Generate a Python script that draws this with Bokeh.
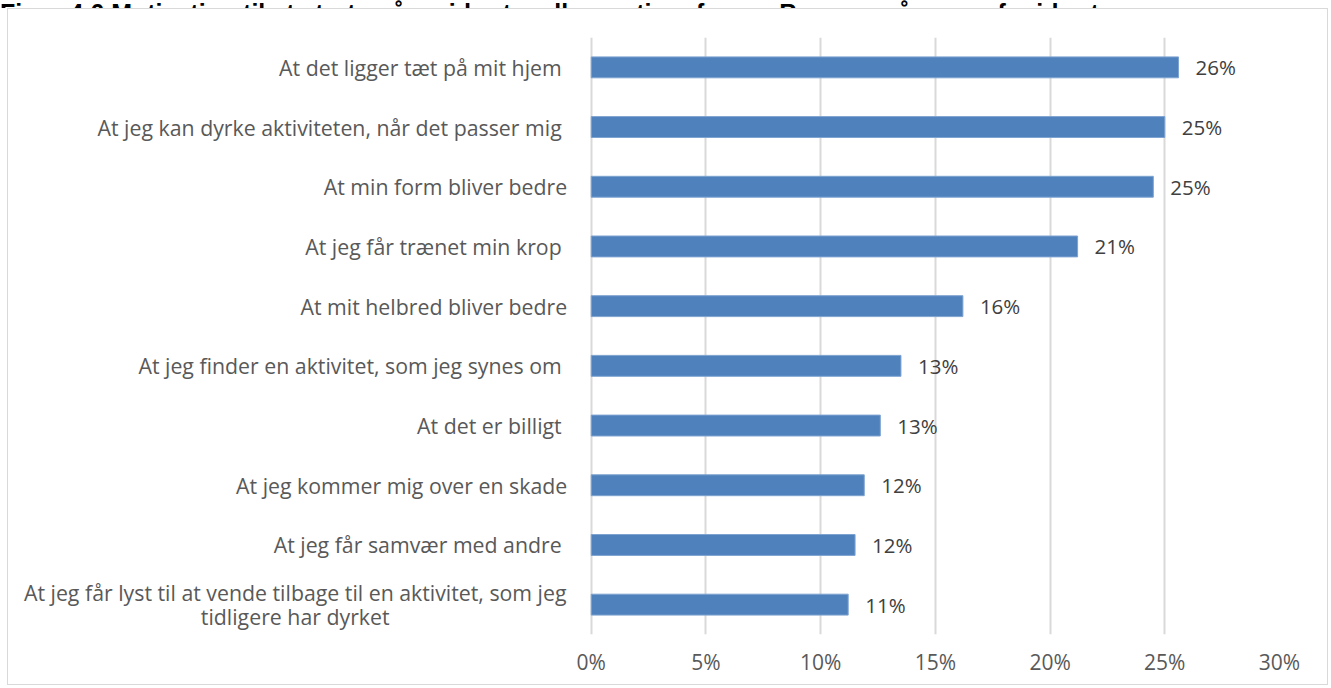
from bokeh.plotting import figure
from bokeh.models import (ColumnDataSource, FactorRange, Range1d, FixedTicker,
                          CustomJSTickFormatter, Div)
from bokeh.layouts import column
from bokeh.core.properties import value
from bokeh.embed import file_html
from bokeh.resources import INLINE

title_text = "Figur 4.6 Motivation til at starte på en idræts- eller motionsform – Borgere på pause fra idræt"
categories = [
    "At det ligger tæt på mit hjem ",
    "At jeg kan dyrke aktiviteten, når det passer mig ",
    "At min form bliver bedre",
    "At jeg får trænet min krop ",
    "At mit helbred bliver bedre",
    "At jeg finder en aktivitet, som jeg synes om ",
    "At det er billigt ",
    "At jeg kommer mig over en skade",
    "At jeg får samvær med andre ",
    "At jeg får lyst til at vende tilbage til en aktivitet, som jeg\ntidligere har dyrket",
]
values = [25.6, 25.0, 24.5, 21.2, 16.2, 13.5, 12.6, 11.9, 11.5, 11.2]
labels = ["26%", "25%", "25%", "21%", "16%", "13%", "13%", "12%", "12%", "11%"]
x_ticks = [0, 5, 10, 15, 20, 25, 30]

FONT = "Open Sans"
CAT_SIZE = "21.3px"

src = ColumnDataSource(dict(cat=categories, val=values, lab=labels))
one_line = ColumnDataSource(dict(cat=categories[:-1], zero=[0] * (len(categories) - 1)))
two_line = ColumnDataSource(dict(cat=categories[-1:], zero=[0]))

p = figure(
    width=1321, height=677,
    y_range=FactorRange(*reversed(categories), range_padding=0),
    # left part of the x range holds the category labels
    x_range=Range1d(-25.4, 30),
    output_backend="svg", toolbar_location=None,
    min_border_left=0, min_border_right=50, min_border_top=28, min_border_bottom=52,
)
p.styles = {"border": "1px solid #d9d9d9", "box-sizing": "border-box", "margin-left": "7px"}
p.outline_line_color = None
p.background_fill_color = "white"
p.border_fill_color = "white"
p.yaxis.visible = False

p.hbar(y="cat", right="val", left=0, height=0.35, source=src,
       fill_color="#4f81bd", line_color="#7ea3d1", line_width=1)

p.text(x="val", y="cat", text="lab", source=src, x_offset=17,
       text_baseline="middle", text_align="left",
       text_font=value(FONT), text_font_size="20.5px", text_color="#404040")

# category labels
p.text(x="zero", y="cat", text="cat", source=one_line, x_offset=-24,
       text_baseline="middle", text_align="right",
       text_font=value(FONT), text_font_size=CAT_SIZE, text_color="#595959")
p.text(x="zero", y="cat", text="cat", source=two_line, x_offset=-296,
       text_baseline="middle", text_align="center", text_line_height=0.85,
       text_font=value(FONT), text_font_size=CAT_SIZE, text_color="#595959")

p.xaxis.ticker = FixedTicker(ticks=x_ticks)
p.xaxis.formatter = CustomJSTickFormatter(code="return tick + '%';")
p.xaxis.axis_line_color = None
p.xaxis.major_tick_line_color = None
p.xaxis.minor_tick_line_color = None
p.xaxis.major_tick_out = 0
p.xaxis.major_tick_in = 0
p.xaxis.major_label_standoff = 13
p.xaxis.major_label_text_font = FONT
p.xaxis.major_label_text_font_size = "21px"
p.xaxis.major_label_text_color = "#595959"

p.xgrid.ticker = FixedTicker(ticks=x_ticks)
p.xgrid.grid_line_color = "#d9d9d9"
p.xgrid.grid_line_width = 2
p.ygrid.grid_line_color = None

title = Div(
    text=f'<div style="margin-top:-17px; white-space:nowrap;">{title_text}</div>',
    width=1331, height=8,
    styles={"overflow": "hidden", "margin": "0", "padding": "0",
            "font-family": "'Liberation Sans', Arial, sans-serif", "font-weight": "bold",
            "font-size": "25px", "line-height": "26px", "color": "#000"},
)

layout = column(title, p, spacing=0)
open("out.html", "w").write(file_html(layout, INLINE))
